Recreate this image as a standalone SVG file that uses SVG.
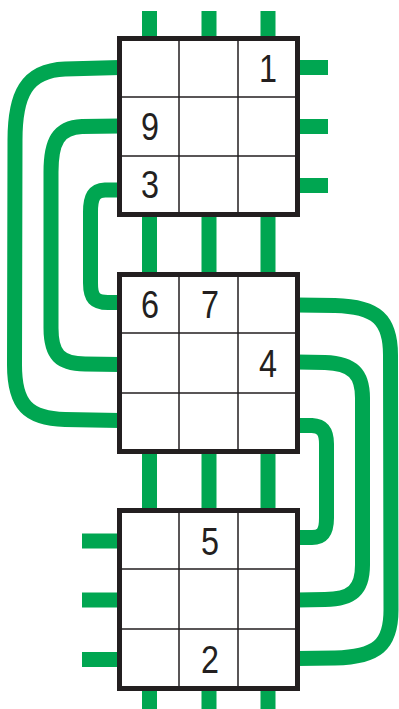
<svg xmlns="http://www.w3.org/2000/svg" width="399" height="709" viewBox="0 0 399 709">
<style>
.w{fill:none;stroke:#00A651;stroke-width:15}
.box{fill:#fff;stroke:#231F20;stroke-width:5}
.g{stroke:#231F20;stroke-width:1.5}
.d{font-family:"Liberation Sans",Arial,sans-serif;font-size:38px;fill:#231F20;text-anchor:middle}
</style>
<g id="connectors">
<path class="w" d="M149.5,11V40M209,11V40M268,11V40"/>
<path class="w" d="M295,67.5H328M295,126.5H328M295,185.5H328"/>
<path class="w" d="M149.5,212V276M209,212V276M268,212V276"/>
<path class="w" d="M149.5,450V512M209,450V512M268,450V512"/>
<path class="w" d="M149.5,688V709M209,688V709M268,688V709"/>
<path class="w" d="M82,541H122M82,600H122M82,659.5H122"/>
<path class="w" d="M120,67.5L65,69C26,70.5 15,95 15,140L14.5,365C14.5,405 28,418.5 65,419.5L120,420.5"/>
<path class="w" d="M120,126L82,126.5C58,127.5 51,142 51,172L51,328C51,355 60,363.5 85,364L120,364.5"/>
<path class="w" d="M120,190L105,190C94,190.5 90.5,197 90.5,212L90.5,283C90.5,298 95,302.5 108,302.5L120,302.5"/>
<path class="w" d="M297,305L335,305.5C377,306.5 390.5,320 390.5,355L391,610C391,645 377,657 335,658L297,658.5"/>
<path class="w" d="M297,362L325,362.5C353,363.5 362.5,374 362.5,398L362.5,565C362.5,590 352,599 325,599.5L297,600"/>
<path class="w" d="M297,425.5L312,425.5C322,426 326.5,431 326.5,444L326.5,518C326.5,533 322,537.5 312,537.5L297,537.5"/>
</g>
<g id="box-top">
<rect class="box" x="119.5" y="38.5" width="178" height="176"/>
<path class="g" d="M179,38.5V214.5M238,38.5V214.5M119.5,97H297.5M119.5,156H297.5"/>
<text class="d" x="268" y="82" textLength="18" lengthAdjust="spacingAndGlyphs">1</text>
<text class="d" x="150" y="140" textLength="18" lengthAdjust="spacingAndGlyphs">9</text>
<text class="d" x="150" y="198" textLength="18" lengthAdjust="spacingAndGlyphs">3</text>
</g>
<g id="box-middle">
<rect class="box" x="119.5" y="274.5" width="178" height="177"/>
<path class="g" d="M179,274.5V451.5M238,274.5V451.5M119.5,333H297.5M119.5,393H297.5"/>
<text class="d" x="150" y="318" textLength="18" lengthAdjust="spacingAndGlyphs">6</text>
<text class="d" x="210" y="318" textLength="18" lengthAdjust="spacingAndGlyphs">7</text>
<text class="d" x="268" y="377" textLength="18" lengthAdjust="spacingAndGlyphs">4</text>
</g>
<g id="box-bottom">
<rect class="box" x="119.5" y="510.5" width="178" height="178"/>
<path class="g" d="M179,510.5V688.5M238,510.5V688.5M119.5,569H297.5M119.5,629H297.5"/>
<text class="d" x="210" y="555" textLength="18" lengthAdjust="spacingAndGlyphs">5</text>
<text class="d" x="210" y="673" textLength="18" lengthAdjust="spacingAndGlyphs">2</text>
</g>
</svg>
